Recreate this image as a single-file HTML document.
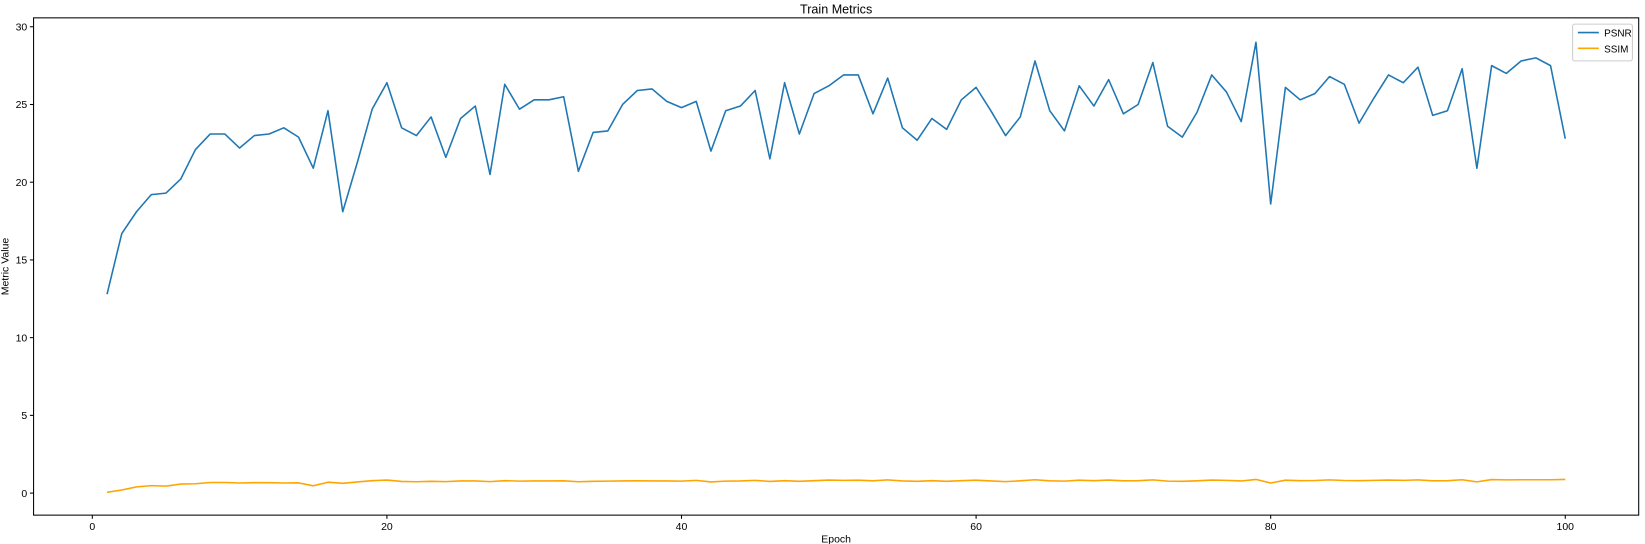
<!DOCTYPE html>
<html><head><meta charset="utf-8"><style>
html,body{margin:0;padding:0;background:#fff;}
svg{display:block;font-family:"Liberation Sans","DejaVu Sans",sans-serif;}
</style></head><body>
<svg id="chart" width="1645" height="544" viewBox="0 0 1568 518.5">
<text x="797" y="13" text-anchor="middle" font-size="12">Train Metrics</text>
<rect x="32" y="17" width="1530" height="474" fill="none" stroke="#000" stroke-width="1"/>
<g id="xticks"></g>
<g id="yticks"></g>
<g id="series"></g>
<text x="797" y="517" text-anchor="middle" font-size="10">Epoch</text>
<text transform="translate(8,254) rotate(-90)" text-anchor="middle" font-size="10">Metric Value</text>
<g>
<rect x="1499" y="23" width="57" height="35" fill="#fff" stroke="#ccc" rx="2"/>
<line x1="1504" y1="31" x2="1524" y2="31" stroke="#1f77b4" stroke-width="1.5"/>
<text x="1529" y="35" font-size="9.5">PSNR</text>
<line x1="1504" y1="46" x2="1524" y2="46" stroke="orange" stroke-width="1.5"/>
<text x="1529" y="50" font-size="9.5">SSIM</text>
</g>
</svg>
<script>
const xTickValues=[0,20,40,60,80,100];
const yTickValues=[0,5,10,15,20,25,30];
const psnr=[12.8,16.7,18.1,19.2,19.3,20.2,22.1,23.1,23.1,22.2,23.0,23.1,23.5,22.9,20.9,24.6,18.1,21.3,24.7,26.4,23.5,23.0,24.2,21.6,24.1,24.9,20.5,26.3,24.7,25.3,25.3,25.5,20.7,23.2,23.3,25.0,25.9,26.0,25.2,24.8,25.2,22.0,24.6,24.9,25.9,21.5,26.4,23.1,25.7,26.2,26.9,26.9,24.4,26.7,23.5,22.7,24.1,23.4,25.3,26.1,24.6,23.0,24.2,27.8,24.6,23.3,26.2,24.9,26.6,24.4,25.0,27.7,23.6,22.9,24.5,26.9,25.8,23.9,29.0,18.6,26.1,25.3,25.7,26.8,26.3,23.8,25.4,26.9,26.4,27.4,24.3,24.6,27.3,20.9,27.5,27.0,27.8,28.0,27.5,22.8];
const ssim=[0.05,0.2,0.4,0.48,0.45,0.58,0.6,0.68,0.68,0.65,0.67,0.67,0.65,0.66,0.47,0.7,0.63,0.72,0.8,0.84,0.75,0.73,0.76,0.74,0.78,0.78,0.74,0.8,0.77,0.78,0.78,0.79,0.73,0.76,0.77,0.78,0.79,0.78,0.78,0.77,0.82,0.72,0.77,0.78,0.82,0.75,0.8,0.76,0.8,0.84,0.82,0.83,0.79,0.85,0.78,0.76,0.8,0.76,0.8,0.83,0.78,0.74,0.79,0.86,0.79,0.77,0.83,0.8,0.84,0.79,0.8,0.85,0.77,0.76,0.79,0.84,0.82,0.78,0.88,0.65,0.83,0.8,0.81,0.85,0.81,0.8,0.82,0.84,0.82,0.85,0.79,0.8,0.86,0.72,0.87,0.85,0.86,0.86,0.86,0.88];
const NS='http://www.w3.org/2000/svg';
function xs(v){return 88+(v-0)*(1492-88)/100;}
function ys(v){return 470-v*(470-25.5)/30;}
function mk(tag,attrs,parent){const e=document.createElementNS(NS,tag);for(const k in attrs)e.setAttribute(k,attrs[k]);parent.appendChild(e);return e;}
const xg=document.getElementById('xticks'),yg=document.getElementById('yticks'),sg=document.getElementById('series');
xTickValues.forEach(v=>{
  const l=mk('line',{x1:xs(v),x2:xs(v),y1:491,y2:494.5,stroke:'#000'},xg);
  
  
  const t=mk('text',{x:xs(v),y:505,'text-anchor':'middle','font-size':'10'},xg);
  t.textContent=v;
  
  
});
yTickValues.forEach(v=>{
  const l=mk('line',{x1:28.5,x2:32,y1:ys(v),y2:ys(v),stroke:'#000'},yg);
  
  
  const t=mk('text',{x:26,y:ys(v)+3.5,'text-anchor':'end','font-size':'10'},yg);
  t.textContent=v;
  
  
});
function pts(arr){return arr.map((v,i)=>xs(i+1).toFixed(2)+','+ys(v).toFixed(2)).join(' ');}
const p1=mk('polyline',{points:pts(psnr),fill:'none',stroke:'#1f77b4','stroke-width':1.5,'stroke-linejoin':'round'},sg);


const p2=mk('polyline',{points:pts(ssim),fill:'none',stroke:'orange','stroke-width':1.5,'stroke-linejoin':'round'},sg);


</script>
</body></html>
